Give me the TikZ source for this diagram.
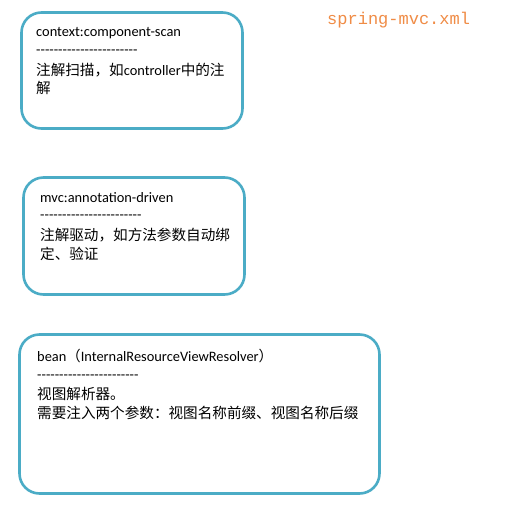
\documentclass[tikz,border=0pt]{standalone}
\usepackage{fontspec}
\setmainfont{Carlito}
\newfontfamily\cjk{Noto Sans CJK SC}
\newfontfamily\monofnt{Liberation Mono}
\definecolor{boxblue}{RGB}{75,172,198}
\definecolor{titleorange}{RGB}{240,140,70}
\newcommand\dashrow{-{}-{}-{}-{}-{}-{}-{}-{}-{}-{}-{}-{}-{}-{}-{}-{}-{}-{}-{}-{}-{}-{}-}
\begin{document}
\begin{tikzpicture}[x=1pt,y=-1pt,
  box/.style={draw=boxblue,line width=2.6pt,rounded corners=20pt},
  txt/.style={anchor=base west,inner sep=0pt,font=\fontsize{14.4}{16}\selectfont},
  cjktxt/.style={anchor=base west,inner sep=0pt,font=\fontsize{14.6}{16}\selectfont\cjk}]
\useasboundingbox (0,0) rectangle (507,512);
\fill[white] (0,0) rectangle (507,512);
\node[anchor=base west,inner sep=0pt,text=titleorange,font=\fontsize{17}{19}\selectfont\monofnt] (title) at (327,24) {spring-mvc.xml};
% box 1
\draw[box] (21.5,12.5) rectangle (242.5,128.5);
\node[txt] (b1a) at (36,36) {context:component-scan};
\node[txt] (b1b) at (36,54) {\dashrow};
\node[txt] (b1c) at (36,75) {{\cjk\fontsize{14.6}{16}\selectfont 注解扫描，如}controller{\cjk\fontsize{14.6}{16}\selectfont 中的注}};
\node[cjktxt] (b1d) at (36,93) {解};
% box 2
\draw[box] (23.5,177.5) rectangle (244.5,294.5);
\node[txt] (b2a) at (40,202) {mvc:annotation-driven};
\node[txt] (b2b) at (40,219) {\dashrow};
\node[cjktxt] (b2c) at (40,240) {注解驱动，如方法参数自动绑};
\node[cjktxt] (b2d) at (40,259) {定、验证};
% box 3
\draw[box] (19.5,334.5) rectangle (379.5,493.5);
\node[txt] (b3a) at (37,361) {bean{\cjk （}InternalResourceViewResolver{\cjk ）}};
\node[txt] (b3b) at (37,379) {\dashrow};
\node[cjktxt] (b3c) at (37,399) {视图解析器。};
\node[cjktxt] (b3d) at (37,418) {需要注入两个参数：视图名称前缀、视图名称后缀};
\end{tikzpicture}
\end{document}
